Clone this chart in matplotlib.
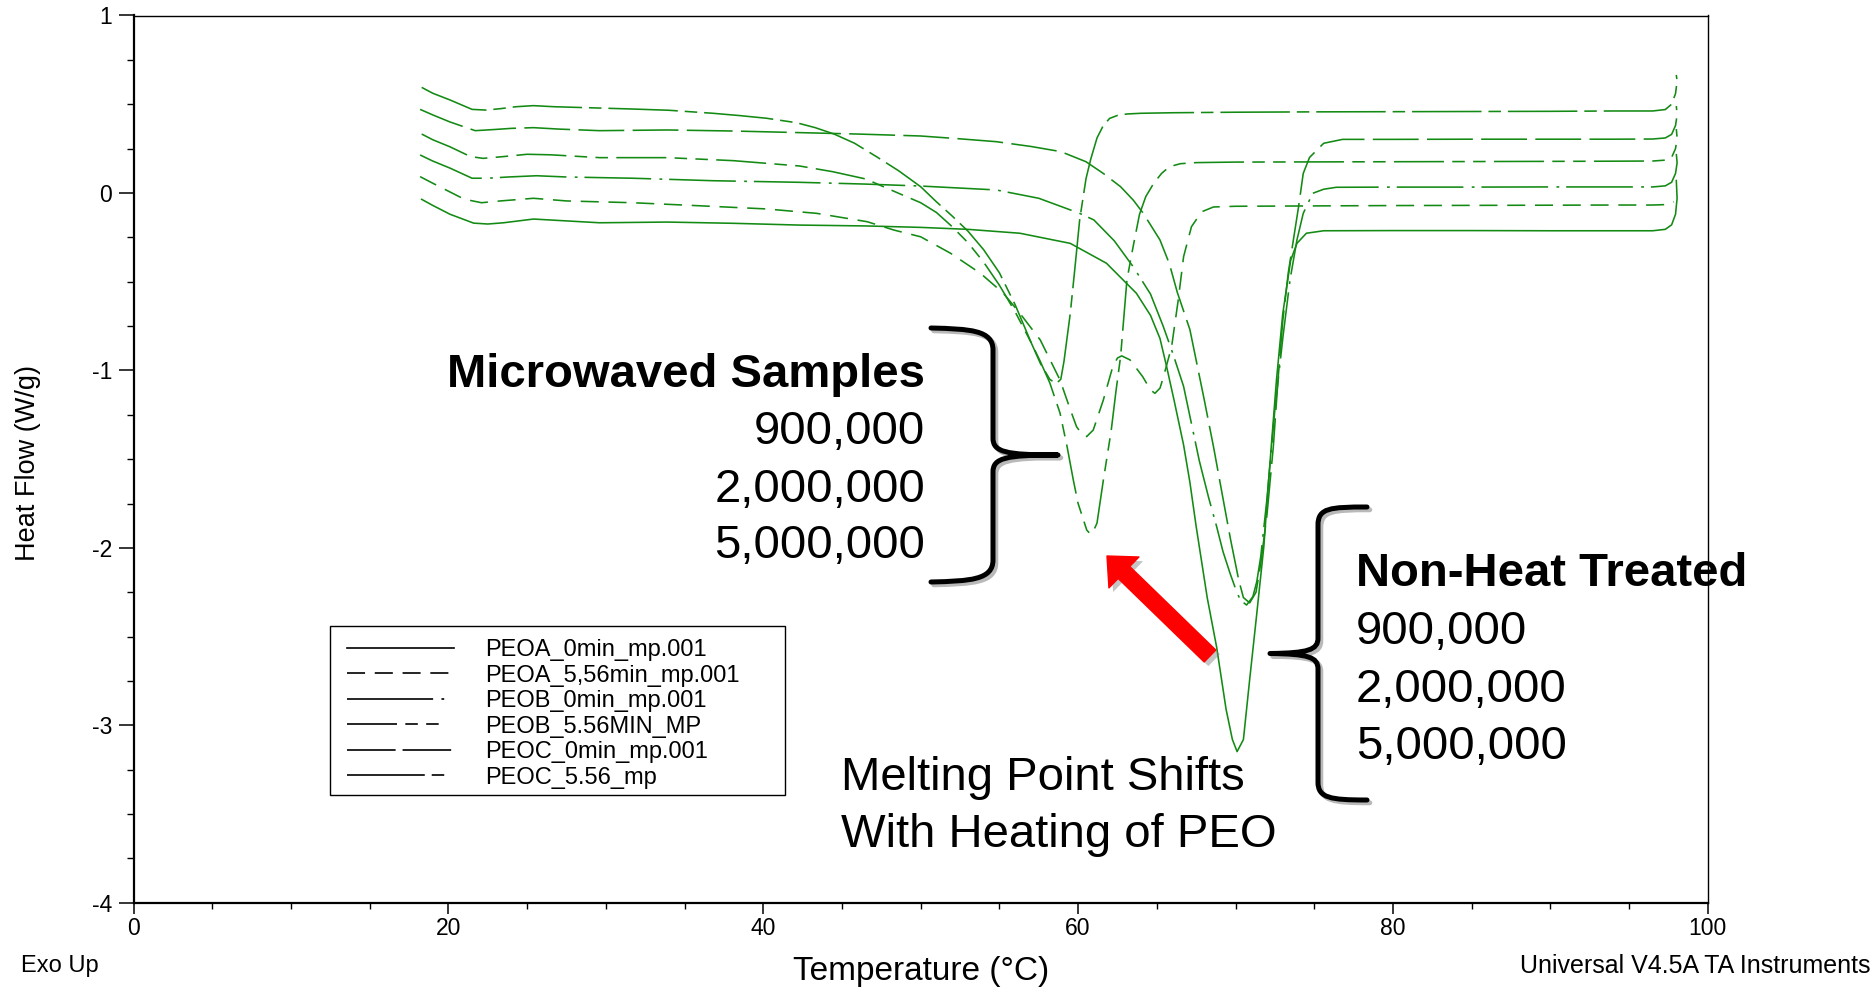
import matplotlib
matplotlib.use('Agg')
import matplotlib.pyplot as plt
from matplotlib.lines import Line2D
from matplotlib.patches import Rectangle, PathPatch, FancyArrowPatch, ArrowStyle
from matplotlib.path import Path
import matplotlib.patheffects as pe
from matplotlib.ticker import MultipleLocator

plt.rcParams['font.family'] = ['Liberation Sans', 'DejaVu Sans']
plt.rcParams['axes.unicode_minus'] = False
plt.rcParams['lines.scale_dashes'] = False

# ---------------- data ----------------
labels = ['PEOA_0min_mp.001', 'PEOA_5,56min_mp.001', 'PEOB_0min_mp.001',
          'PEOB_5.56MIN_MP', 'PEOC_0min_mp.001', 'PEOC_5.56_mp']

peoa_0_temp = [18.3, 19.0, 20.1, 21.6, 22.5, 23.5, 25.4, 27.0, 29.6, 33.9,
               38.1, 42.3, 46.6, 50.0, 53.0, 56.3, 59.5, 61.8, 63.7, 64.6,
               65.2, 65.6, 66.1, 66.7, 67.1, 67.5, 68.2, 68.8, 69.4, 69.8,
               70.1, 70.5, 70.9, 71.35, 71.8, 72.1, 72.6, 73.0, 73.5, 73.9,
               74.5, 75.6, 80.0, 85.0, 90.0, 94.0, 96.5, 97.3, 97.7, 97.95,
               98.05, 98.0]
peoa_0_hf = [-0.036, -0.07, -0.12, -0.170, -0.175, -0.168, -0.147, -0.155, -0.168, -0.164,
             -0.171, -0.181, -0.186, -0.194, -0.205, -0.227, -0.284, -0.396, -0.565, -0.69,
             -0.82, -0.97, -1.17, -1.42, -1.63, -1.88, -2.28, -2.56, -2.91, -3.08,
             -3.148, -3.08, -2.74, -2.37, -1.99, -1.62, -1.054, -0.68, -0.38, -0.284,
             -0.227, -0.213, -0.212, -0.212, -0.213, -0.213, -0.213, -0.205, -0.18, -0.12,
             -0.03, 0.07]

peoa_556_temp = [18.2, 19.0, 20.0, 21.0, 22.1, 23.3, 25.4, 27.5, 31.7, 35.9,
                 40.2, 43.4, 46.6, 48.3, 50.0, 51.9, 53.8, 55.25, 56.3, 57.6,
                 58.85, 59.5, 59.9, 60.25, 60.54, 60.96, 61.6, 62.2, 62.5, 62.77,
                 63.3, 64.1, 64.6, 64.88, 65.2, 65.41, 65.94, 66.36, 66.7, 67.2,
                 67.85, 68.6, 70.0, 75.0, 80.0, 85.0, 90.0, 94.0, 96.5, 97.2,
                 97.6, 97.85]
peoa_556_hf = [0.092, 0.055, 0.01, -0.035, -0.055, -0.045, -0.030, -0.045, -0.055, -0.072,
               -0.090, -0.115, -0.162, -0.209, -0.247, -0.340, -0.453, -0.565, -0.678, -0.829,
               -1.054, -1.22, -1.317, -1.36, -1.373, -1.336, -1.167, -0.979, -0.93, -0.918,
               -0.941, -1.035, -1.11, -1.129, -1.10, -1.04, -0.866, -0.603, -0.359, -0.190,
               -0.106, -0.079, -0.075, -0.073, -0.071, -0.070, -0.069, -0.068, -0.068, -0.066,
               -0.06, -0.05]

peob_0_temp = [18.2, 19.0, 20.1, 21.5, 22.5, 23.8, 25.6, 27.5, 31.7, 36.8,
               42.3, 46.5, 50.0, 54.8, 57.5, 60.1, 61.0, 62.3, 63.5, 64.6,
               65.4, 66.0, 66.7, 67.2, 67.7, 68.3, 68.8, 69.2, 69.65, 70.0,
               70.3, 70.7, 71.1, 71.35, 71.6, 72.0, 72.5, 73.0, 73.46, 73.9,
               74.3, 74.9, 75.6, 76.4, 80.0, 85.0, 90.0, 94.0, 96.5, 97.3,
               97.7, 97.95, 98.05, 98.0]
peob_0_hf = [0.214, 0.18, 0.14, 0.083, 0.083, 0.090, 0.097, 0.090, 0.083, 0.069,
             0.060, 0.050, 0.039, 0.017, -0.03, -0.115, -0.152, -0.27, -0.416, -0.57,
             -0.75, -0.90, -1.09, -1.30, -1.51, -1.72, -1.88, -2.02, -2.143, -2.23,
             -2.294, -2.322, -2.275, -2.19, -2.05, -1.72, -1.22, -0.82, -0.49, -0.265,
             -0.115, -0.002, 0.021, 0.032, 0.033, 0.033, 0.034, 0.034, 0.034, 0.04,
             0.06, 0.11, 0.17, 0.22]

peob_556_temp = [18.3, 19.0, 20.1, 21.4, 22.2, 23.5, 25.0, 26.5, 29.6, 33.9,
                 38.1, 42.3, 44.4, 46.5, 48.6, 50.0, 51.0, 52.0, 53.0, 54.0,
                 55.0, 56.0, 57.0, 57.6, 58.2, 58.85, 59.3, 59.7, 60.0, 60.33,
                 60.55, 60.76, 61.0, 61.2, 61.6, 62.1, 62.4, 62.7, 63.1, 63.5,
                 63.9, 64.3, 64.8, 65.3, 65.8, 66.5, 67.5, 70.0, 75.0, 80.0,
                 85.0, 90.0, 94.0, 96.5, 97.3, 97.7, 97.95, 98.05, 98.0]
peob_556_hf = [0.332, 0.30, 0.26, 0.205, 0.195, 0.205, 0.218, 0.215, 0.199, 0.199,
               0.182, 0.152, 0.120, 0.079, -0.002, -0.055, -0.11, -0.19, -0.28, -0.39,
               -0.52, -0.67, -0.84, -0.95, -1.07, -1.24, -1.43, -1.62, -1.75, -1.84,
               -1.90, -1.92, -1.90, -1.86, -1.62, -1.34, -1.12, -0.92, -0.49, -0.30,
               -0.12, -0.02, 0.054, 0.11, 0.148, 0.165, 0.171, 0.174, 0.175, 0.176,
               0.177, 0.178, 0.179, 0.18, 0.185, 0.20, 0.25, 0.31, 0.36]

peoc_0_temp = [18.2, 19.0, 20.1, 21.7, 23.0, 24.0, 25.4, 27.0, 29.6, 33.9,
               38.1, 42.3, 46.0, 50.0, 52.5, 54.8, 57.0, 58.9, 60.5, 61.6,
               62.7, 63.5, 64.1, 64.6, 65.2, 65.8, 66.3, 67.1, 68.0, 68.6,
               69.2, 69.7, 70.2, 70.5, 70.9, 71.3, 71.6, 72.0, 72.4, 72.7,
               73.0, 73.35, 73.7, 74.0, 74.3, 74.7, 75.6, 76.8, 80.0, 85.0,
               90.0, 94.0, 96.5, 97.3, 97.7, 97.95, 98.05, 98.0]
peoc_0_hf = [0.471, 0.44, 0.40, 0.351, 0.358, 0.364, 0.368, 0.360, 0.351, 0.355,
             0.349, 0.340, 0.332, 0.321, 0.305, 0.289, 0.262, 0.233, 0.176, 0.11,
             0.035, -0.04, -0.11, -0.18, -0.265, -0.40, -0.56, -0.77, -1.16, -1.43,
             -1.72, -1.96, -2.18, -2.28, -2.31, -2.25, -2.09, -1.81, -1.43, -1.05,
             -0.72, -0.45, -0.25, -0.08, 0.11, 0.20, 0.28, 0.302, 0.302, 0.303,
             0.303, 0.303, 0.304, 0.31, 0.33, 0.38, 0.44, 0.49]

peoc_556_temp = [18.3, 19.0, 20.1, 21.5, 22.4, 23.3, 24.3, 25.4, 26.7, 29.0,
                 31.7, 34.0, 36.8, 38.5, 40.2, 42.1, 43.3, 44.5, 45.8, 47.2,
                 48.6, 50.0, 51.0, 52.0, 53.0, 54.0, 55.0, 56.0, 57.0, 57.6,
                 58.2, 58.6, 58.9, 59.1, 59.5, 59.8, 60.1, 60.5, 60.8, 61.2,
                 61.6, 62.0, 62.5, 63.1, 64.0, 66.0, 70.0, 75.0, 80.0, 85.0,
                 90.0, 94.0, 96.5, 97.3, 97.7, 97.95, 98.05, 98.0]
peoc_556_hf = [0.595, 0.562, 0.524, 0.471, 0.467, 0.475, 0.486, 0.492, 0.486, 0.480,
               0.473, 0.466, 0.449, 0.436, 0.421, 0.396, 0.368, 0.332, 0.28, 0.204,
               0.125, 0.035, -0.05, -0.13, -0.215, -0.32, -0.45, -0.63, -0.84, -0.96,
               -1.05, -1.075, -1.05, -0.95, -0.68, -0.42, -0.15, 0.08, 0.19, 0.31,
               0.38, 0.42, 0.437, 0.445, 0.449, 0.452, 0.455, 0.457, 0.458, 0.459,
               0.46, 0.462, 0.462, 0.47, 0.50, 0.56, 0.63, 0.665]

x_ticks = [0, 20, 40, 60, 80, 100]
y_ticks = [-4, -3, -2, -1, 0, 1]

microwaved_lines = ['900,000', '2,000,000', '5,000,000']
nonheat_lines = ['900,000', '2,000,000', '5,000,000']

# ---------------- styles ----------------
green = '#138a13'
styles = ['-', (0, (13, 7)), (0, (48, 6, 2, 5)), (0, (36, 6, 9, 6, 9, 6)),
          (0, (33, 6)), (0, (50, 5, 9, 5))]
legend_styles = ['-', (0, (13, 7)), (0, (62, 6, 2, 20)), (0, (36, 6, 9, 6, 9, 20)),
                 (0, (35, 5)), (0, (56, 5, 9, 20))]
series = [(peoa_0_temp, peoa_0_hf), (peoa_556_temp, peoa_556_hf),
          (peob_0_temp, peob_0_hf), (peob_556_temp, peob_556_hf),
          (peoc_0_temp, peoc_0_hf), (peoc_556_temp, peoc_556_hf)]

W, H = 1870, 988
fig = plt.figure(figsize=(W / 100, H / 100), dpi=100)
ax = fig.add_axes([133.6 / W, 1 - 902.8 / H, 1574.2 / W, 887.3 / H])


def fx(X):
    return X / W


def fy(Y):
    return 1 - Y / H


for (t, hf), ls, lab in zip(series, styles, labels):
    ax.plot(t, hf, color=green, lw=1.15, linestyle=ls, label=lab)

ax.set_xlim(0, 100)
ax.set_ylim(-4, 1)
ax.set_xticks(x_ticks)
ax.set_yticks(y_ticks)
ax.xaxis.set_minor_locator(MultipleLocator(5))
ax.yaxis.set_minor_locator(MultipleLocator(0.25))
ax.tick_params(axis='x', which='major', direction='out', length=8, width=1.1,
               pad=2, labelsize=16.5)
ax.tick_params(axis='x', which='minor', direction='out', length=4, width=1.0)
ax.tick_params(axis='y', which='major', direction='out', length=10.5, width=1.1,
               pad=5, labelsize=16.5)
ax.tick_params(axis='y', which='minor', direction='out', length=5, width=1.0)
for s in ['left', 'bottom']:
    ax.spines[s].set_linewidth(1.6)
for s in ['top', 'right']:
    ax.spines[s].set_linewidth(1.0)

ax.set_xlabel('Temperature (°C)', fontsize=24)
ax.xaxis.set_label_coords(0.5, -0.060)
ax.set_ylabel('Heat Flow (W/g)', fontsize=19.5)
ax.yaxis.set_label_coords(-0.059, 0.496)

# legend (black samples, box drawn separately)
handles = [Line2D([], [], color='black', lw=1.2, linestyle=ls) for ls in legend_styles]
leg = ax.legend(handles, labels, loc='upper left',
                bbox_to_anchor=((347 - 133.6) / 1574.2, (902.8 - 639) / 887.3),
                borderaxespad=0, borderpad=0, frameon=False, fontsize=17,
                handlelength=4.55, handletextpad=1.31, labelspacing=0.15)
ax.add_patch(Rectangle(((330 - 133.6) / 1574.2, (902.8 - 795) / 887.3),
                       455 / 1574.2, 169 / 887.3, transform=ax.transAxes,
                       fill=False, edgecolor='black', lw=1.0, zorder=5))

# footer texts
fig.text(fx(21), fy(966), 'Exo Up', fontsize=17, va='center', ha='left')
fig.text(fx(1520), fy(966), 'Universal V4.5A TA Instruments', fontsize=18,
         va='center', ha='left')

# annotation texts
fig.text(fx(925), fy(386.7), 'Microwaved Samples', fontsize=34, fontweight='bold',
         ha='right', va='baseline')
for txt, Y in zip(microwaved_lines, [443.6, 501.7, 558.3]):
    fig.text(fx(925), fy(Y), txt, fontsize=34, ha='right', va='baseline')

fig.text(fx(1356), fy(586.5), 'Non-Heat Treated', fontsize=34, fontweight='bold',
         ha='left', va='baseline')
for txt, Y in zip(nonheat_lines, [644.5, 701.5, 758.5]):
    fig.text(fx(1356), fy(Y), txt, fontsize=34, ha='left', va='baseline')

fig.text(fx(841), fy(790), 'Melting Point Shifts', fontsize=34, ha='left', va='baseline')
fig.text(fx(841), fy(847), 'With Heating of PEO', fontsize=34, ha='left', va='baseline')

# curly braces
shadow = [pe.SimpleLineShadow(offset=(2, -2), shadow_color='gray', alpha=0.55), pe.Normal()]


def brace(pts, codes):
    verts = [(fx(X), fy(Y)) for X, Y in pts]
    p = PathPatch(Path(verts, codes), facecolor='none', edgecolor='black', lw=3.6,
                  transform=fig.transFigure, capstyle='round', joinstyle='round',
                  path_effects=shadow)
    fig.add_artist(p)


M, L, C = Path.MOVETO, Path.LINETO, Path.CURVE4
brace([(931, 328), (970, 329), (993, 330), (993, 350),
       (993, 438),
       (993, 452), (1005, 455), (1058, 455),
       (1005, 455), (993, 458), (993, 472),
       (993, 560),
       (993, 580), (970, 581), (931, 582)],
      [M, C, C, C, L, C, C, C, C, C, C, L, C, C, C])

brace([(1367, 507), (1330, 507), (1318, 508), (1318, 525),
       (1318, 638),
       (1318, 650), (1308, 653), (1270, 653.5),
       (1308, 654), (1318, 657), (1318, 669),
       (1318, 782),
       (1318, 798), (1330, 800), (1367, 800)],
      [M, C, C, C, L, C, C, C, C, C, C, L, C, C, C])

# red arrow
arrow = FancyArrowPatch(posA=(fx(1210), fy(656)), posB=(fx(1107), fy(556)),
                        arrowstyle=ArrowStyle.Simple(head_length=17, head_width=31,
                                                     tail_width=12),
                        color='#ff0000', transform=fig.transFigure,
                        shrinkA=0, shrinkB=0, joinstyle='round',
                        path_effects=[pe.SimplePatchShadow(offset=(3, -3),
                                                           shadow_rgbFace='gray',
                                                           alpha=0.45),
                                      pe.Normal()])
fig.add_artist(arrow)

fig.savefig('out.png', dpi=100)
